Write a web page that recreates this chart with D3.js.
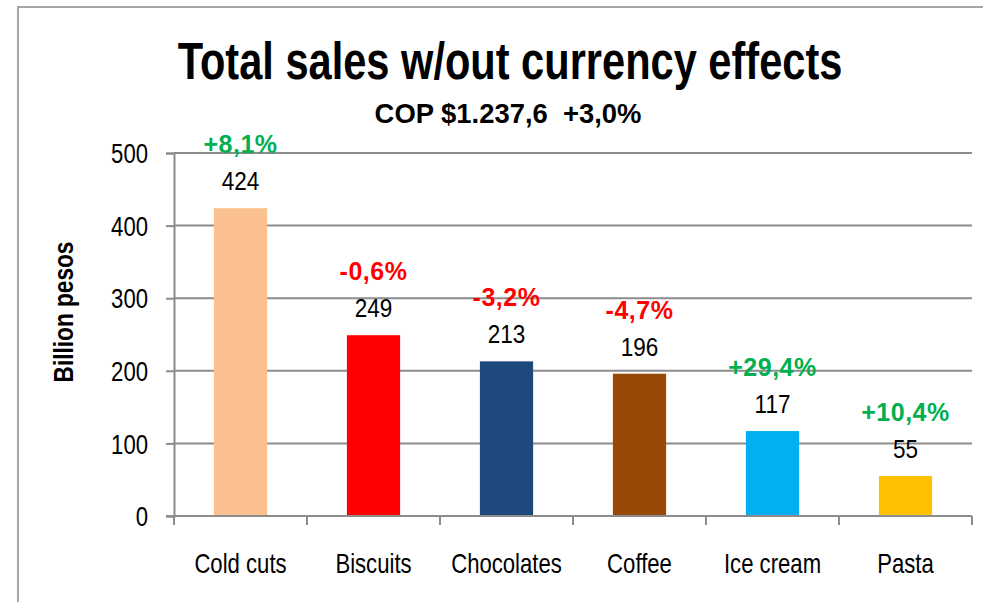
<!DOCTYPE html>
<html>
<head>
<meta charset="utf-8">
<script src="https://cdn.jsdelivr.net/npm/d3@7"></script>
<style>
  html, body { margin: 0; padding: 0; background: #fff; }
  svg { display: block; }
  text { white-space: pre; }
</style>
</head>
<body>
<svg id="chart" width="983" height="602"></svg>
<script>
// Sales by category, billion pesos, with year-on-year change
const categories = ["Cold cuts", "Biscuits", "Chocolates", "Coffee", "Ice cream", "Pasta"];
const sales = [424, 249, 213, 196, 117, 55];
const changes = ["+8,1%", "-0,6%", "-3,2%", "-4,7%", "+29,4%", "+10,4%"];
const barColors = ["#FAC090", "#FF0000", "#1F497D", "#984807", "#00B0F0", "#FFC000"];
const yTicks = [0, 100, 200, 300, 400, 500];
const titleText = "Total sales w/out currency effects";
const subtitleText = "COP $1.237,6  +3,0%";
const yLabel = "Billion pesos";

const svg = d3.select("#chart");
const W = 983, H = 602;
const plot = { left: 174, right: 972, top: 153, bottom: 516 };
const gridColor = "#8C8C8C";
const sans = "'Liberation Sans', Arial, sans-serif";
const squeeze = 0.82; // horizontal compression giving a condensed face

// outer frame
svg.append("rect")
  .attr("x", 18).attr("y", 7)
  .attr("width", W + 20).attr("height", H + 20)
  .attr("fill", "none").attr("stroke", "#A6A6A6").attr("stroke-width", 2);

const x = d3.scaleBand()
  .domain(categories)
  .range([plot.left, plot.right])
  .paddingInner(0.6)
  .paddingOuter(0.3);

const y = d3.scaleLinear()
  .domain([0, 500])
  .range([plot.bottom, plot.top]);

// horizontal gridlines
svg.append("g")
  .selectAll("line")
  .data(yTicks.filter(d => d > 0))
  .join("line")
  .attr("x1", plot.left).attr("x2", plot.right)
  .attr("y1", d => y(d)).attr("y2", d => y(d))
  .attr("stroke", gridColor).attr("stroke-width", 2);

// y axis
const yAxis = svg.append("g")
  .attr("transform", `translate(${plot.left},0)`)
  .call(d3.axisLeft(y).tickValues(yTicks).tickSize(8).tickPadding(18));
yAxis.select(".domain").attr("stroke", gridColor).attr("stroke-width", 2);
yAxis.selectAll(".tick line").attr("stroke", gridColor).attr("stroke-width", 2);
yAxis.selectAll(".tick text")
  .attr("x", 0).attr("dy", "0.36em")
  .attr("transform", `translate(-26,0) scale(${squeeze},1)`)
  .attr("font-family", sans).attr("font-size", 27).attr("fill", "#000");

// bars
svg.append("g")
  .selectAll("rect")
  .data(categories)
  .join("rect")
  .attr("x", d => x(d))
  .attr("width", x.bandwidth())
  .attr("y", (d, i) => y(sales[i]))
  .attr("height", (d, i) => y(0) - y(sales[i]))
  .attr("fill", (d, i) => barColors[i]);

// x axis line with category boundary ticks
const step = x.step();
const boundaries = categories.map(c => x(c) - x.paddingOuter() * step)
  .concat([x(categories[categories.length - 1]) + x.bandwidth() + x.paddingOuter() * step]);
svg.append("line")
  .attr("x1", plot.left - 8).attr("x2", plot.right)
  .attr("y1", plot.bottom).attr("y2", plot.bottom)
  .attr("stroke", gridColor).attr("stroke-width", 2);
svg.append("g")
  .selectAll("line")
  .data(boundaries)
  .join("line")
  .attr("x1", d => d).attr("x2", d => d)
  .attr("y1", plot.bottom).attr("y2", plot.bottom + 9)
  .attr("stroke", gridColor).attr("stroke-width", 2);

// category labels
svg.append("g")
  .selectAll("text")
  .data(categories)
  .join("text")
  .attr("transform", d => `translate(${x(d) + x.bandwidth() / 2},573) scale(${squeeze},1)`)
  .attr("text-anchor", "middle")
  .attr("font-family", sans).attr("font-size", 27).attr("fill", "#000")
  .text(d => d);

// value labels
svg.append("g")
  .selectAll("text")
  .data(categories)
  .join("text")
  .attr("transform", (d, i) => `translate(${x(d) + x.bandwidth() / 2},${y(sales[i]) - 18}) scale(0.9,1)`)
  .attr("text-anchor", "middle")
  .attr("font-family", sans).attr("font-size", 25).attr("fill", "#000")
  .text((d, i) => sales[i]);

// change labels
svg.append("g")
  .selectAll("text")
  .data(categories)
  .join("text")
  .attr("x", d => x(d) + x.bandwidth() / 2)
  .attr("y", (d, i) => y(sales[i]) - 55)
  .attr("text-anchor", "middle")
  .attr("font-family", sans).attr("font-size", 25).attr("font-weight", "bold")
  .attr("letter-spacing", 0.5)
  .attr("fill", (d, i) => changes[i].startsWith("-") ? "#FF0000" : "#00B050")
  .text((d, i) => changes[i]);

// condensed bold text squeezed to a given width
function fitText(str, size, width, place) {
  const t = svg.append("text")
    .attr("text-anchor", "middle")
    .attr("font-family", sans).attr("font-size", size).attr("font-weight", "bold")
    .attr("fill", "#000")
    .text(str);
  const sx = width / t.node().getComputedTextLength();
  t.attr("transform", `${place} scale(${sx},1)`);
  return t;
}

fitText(titleText, 51, 665, "translate(510,79)");
fitText(subtitleText, 27, 267, "translate(508,123)");
fitText(yLabel, 27, 141, "translate(73,312) rotate(-90)");
</script>
</body>
</html>
